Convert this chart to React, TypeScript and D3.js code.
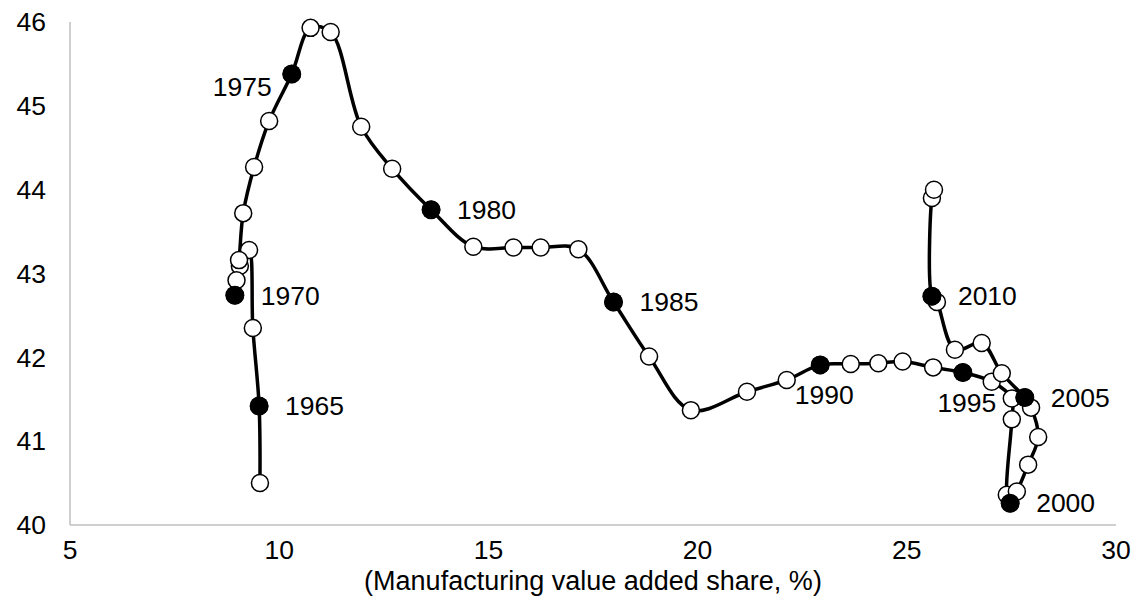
import React from "react";
import * as d3 from "d3";

// ---- data ----
const years = [
  1964, 1965, 1966, 1967, 1968, 1969, 1970, 1971, 1972, 1973, 1974, 1975, 1976,
  1977, 1978, 1979, 1980, 1981, 1982, 1983, 1984, 1985, 1986, 1987, 1988, 1989,
  1990, 1991, 1992, 1993, 1994, 1995, 1996, 1997, 1998, 1999, 2000, 2001, 2002,
  2003, 2004, 2005, 2006, 2007, 2008, 2009, 2010, 2011, 2012,
];
const mvaShare = [
  9.54, 9.52, 9.37, 9.28, 9.06, 8.98, 8.94, 9.04, 9.14, 9.4, 9.76, 10.3, 10.75,
  11.23, 11.96, 12.7, 13.63, 14.64, 15.6, 16.25, 17.15, 17.99, 18.84, 19.84,
  21.18, 22.13, 22.93, 23.66, 24.32, 24.9, 25.63, 26.34, 27.03, 27.51, 27.51,
  27.39, 27.47, 27.63, 27.9, 28.14, 27.97, 27.82, 27.27, 26.79, 26.15, 25.72,
  25.6, 25.6, 25.65,
];
const yValue = [
  40.5, 41.42, 42.35, 43.28, 43.09, 42.92, 42.74, 43.16, 43.72, 44.27, 44.82,
  45.38, 45.93, 45.88, 44.75, 44.25, 43.76, 43.32, 43.31, 43.31, 43.29, 42.66,
  42.01, 41.37, 41.59, 41.73, 41.91, 41.92, 41.93, 41.95, 41.88, 41.82, 41.71,
  41.51, 41.26, 40.36, 40.26, 40.4, 40.72, 41.05, 41.4, 41.52, 41.81, 42.17,
  42.09, 42.66, 42.73, 43.9, 44.0,
];
const labeledYears = [1965, 1970, 1975, 1980, 1985, 1990, 1995, 2000, 2005, 2010];
const labelSide = ["right", "right", "left", "right", "right", "below", "below", "right", "right", "right"];
const xTicks = [5, 10, 15, 20, 25, 30];
const yTicks = [40, 41, 42, 43, 44, 45, 46];
const xTitle = "(Manufacturing value added share, %)";

// ---- layout ----
const W = 1136;
const H = 605;
const M = { left: 70, right: 1116, top: 22, bottom: 525 };
const FONT = "'Liberation Sans', Arial, sans-serif";
const FS = 26.5;
const TITLE_FS = 27;

export default function App() {
  const x = d3.scaleLinear().domain([5, 30]).range([M.left, M.right]);
  const y = d3.scaleLinear().domain([40, 46]).range([M.bottom, M.top]);

  const pts: [number, number][] = years.map((_, i) => [x(mvaShare[i]), y(yValue[i])]);
  const path = d3
    .line<[number, number]>()
    .x((d) => d[0])
    .y((d) => d[1])
    .curve(d3.curveCatmullRom.alpha(0.5))(pts);

  const labeled = labeledYears.map((yr, k) => {
    const i = years.indexOf(yr);
    return { yr, px: x(mvaShare[i]), py: y(yValue[i]), side: labelSide[k] };
  });

  return (
    <svg
      width={W}
      height={H}
      style={{ position: "absolute", left: 0, top: 0, background: "#fff" }}
      fontFamily={FONT}
    >
      {/* axes */}
      <line x1={M.left} x2={M.left} y1={M.top} y2={M.bottom} stroke="#bfbfbf" strokeWidth={1.5} />
      <line x1={M.left} x2={M.right} y1={M.bottom} y2={M.bottom} stroke="#bfbfbf" strokeWidth={1.5} />

      {yTicks.map((t) => (
        <text key={"y" + t} x={46} y={y(t)} dy="0.35em" textAnchor="end" fontSize={FS} fill="#000">
          {t}
        </text>
      ))}
      {xTicks.map((t) => (
        <text key={"x" + t} x={x(t)} y={M.bottom + 25} dy="0.35em" textAnchor="middle" fontSize={FS} fill="#000">
          {t}
        </text>
      ))}
      <text x={(M.left + M.right) / 2} y={590} textAnchor="middle" fontSize={TITLE_FS} fill="#000">
        {xTitle}
      </text>

      {/* smoothed path */}
      <path d={path || ""} fill="none" stroke="#000" strokeWidth={3.5} strokeLinejoin="round" />

      {/* open markers for every year */}
      {pts.map((p, i) => (
        <circle key={"o" + years[i]} cx={p[0]} cy={p[1]} r={8.5} fill="#fff" stroke="#000" strokeWidth={1.5} />
      ))}

      {/* filled markers for labelled years */}
      {labeled.map((d) => (
        <circle key={"f" + d.yr} cx={d.px} cy={d.py} r={9.5} fill="#000" />
      ))}

      {labeled.map((d) => {
        let tx = d.px + 26;
        let ty = d.py;
        let anchor: "start" | "end" | "middle" = "start";
        if (d.side === "left") {
          tx = d.px - 20;
          ty = d.py + 13;
          anchor = "end";
        } else if (d.side === "below") {
          tx = d.px + 4;
          ty = d.py + 30;
          anchor = "middle";
        }
        return (
          <text key={"l" + d.yr} x={tx} y={ty} dy="0.35em" textAnchor={anchor} fontSize={FS} fill="#000">
            {d.yr}
          </text>
        );
      })}
    </svg>
  );
}
